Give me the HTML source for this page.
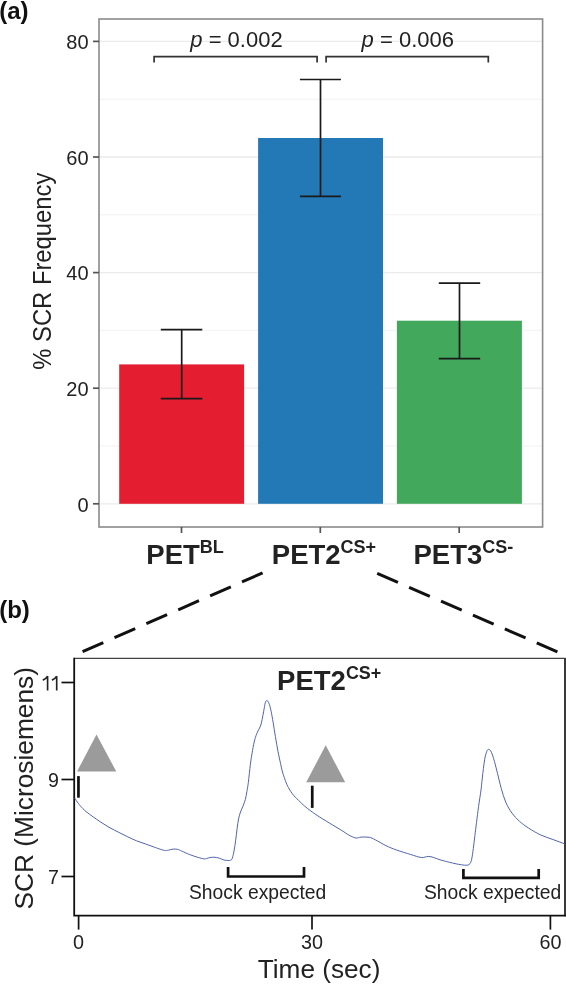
<!DOCTYPE html>
<html><head><meta charset="utf-8"><title>SCR figure</title>
<style>
html,body{margin:0;padding:0;background:#fff;width:566px;height:984px;overflow:hidden}
svg{position:absolute;left:0;top:0;display:block;will-change:transform}
text{font-family:"Liberation Sans",sans-serif}
</style></head><body>
<svg width="566" height="984" viewBox="0 0 566 984">
<line x1="99" x2="542.6" y1="446" y2="446" stroke="#F0F0F0" stroke-width="0.9"/>
<line x1="99" x2="542.6" y1="330.4" y2="330.4" stroke="#F0F0F0" stroke-width="0.9"/>
<line x1="99" x2="542.6" y1="214.8" y2="214.8" stroke="#F0F0F0" stroke-width="0.9"/>
<line x1="99" x2="542.6" y1="99.2" y2="99.2" stroke="#F0F0F0" stroke-width="0.9"/>
<line x1="99" x2="542.6" y1="503.8" y2="503.8" stroke="#EBEBEB" stroke-width="1.3"/>
<line x1="99" x2="542.6" y1="388.2" y2="388.2" stroke="#EBEBEB" stroke-width="1.3"/>
<line x1="99" x2="542.6" y1="272.6" y2="272.6" stroke="#EBEBEB" stroke-width="1.3"/>
<line x1="99" x2="542.6" y1="157" y2="157" stroke="#EBEBEB" stroke-width="1.3"/>
<line x1="99" x2="542.6" y1="41.4" y2="41.4" stroke="#EBEBEB" stroke-width="1.3"/>
<rect x="119.2" y="364.4" width="124.9" height="139.4" fill="#E41E30"/>
<rect x="258.1" y="138" width="124.9" height="365.8" fill="#2279B5"/>
<rect x="396.9" y="320.7" width="125" height="183.1" fill="#42A85C"/>
<path d="M160.8 329.7H202.3M181.7 329.7V398.6M160.8 398.6H202.3" stroke="#1a1a1a" stroke-width="1.7" fill="none"/>
<path d="M299.9 79.5H340.9M320.5 79.5V196.3M299.9 196.3H340.9" stroke="#1a1a1a" stroke-width="1.7" fill="none"/>
<path d="M438.8 283.2H480.2M459.5 283.2V358.6M438.8 358.6H480.2" stroke="#1a1a1a" stroke-width="1.7" fill="none"/>
<rect x="99" y="19" width="443.6" height="508" fill="none" stroke="#8a8a8a" stroke-width="1.6"/>
<line x1="93" x2="99" y1="503.8" y2="503.8" stroke="#555" stroke-width="1.7"/>
<text x="88.6" y="511.5" font-size="20" text-anchor="end" fill="#222">0</text>
<line x1="93" x2="99" y1="388.2" y2="388.2" stroke="#555" stroke-width="1.7"/>
<text x="88.6" y="395.9" font-size="20" text-anchor="end" fill="#222">20</text>
<line x1="93" x2="99" y1="272.6" y2="272.6" stroke="#555" stroke-width="1.7"/>
<text x="88.6" y="280.3" font-size="20" text-anchor="end" fill="#222">40</text>
<line x1="93" x2="99" y1="157" y2="157" stroke="#555" stroke-width="1.7"/>
<text x="88.6" y="164.7" font-size="20" text-anchor="end" fill="#222">60</text>
<line x1="93" x2="99" y1="41.4" y2="41.4" stroke="#555" stroke-width="1.7"/>
<text x="88.6" y="49.1" font-size="20" text-anchor="end" fill="#222">80</text>
<line x1="181.5" x2="181.5" y1="527" y2="533" stroke="#555" stroke-width="1.7"/>
<line x1="320.3" x2="320.3" y1="527" y2="533" stroke="#555" stroke-width="1.7"/>
<line x1="459.2" x2="459.2" y1="527" y2="533" stroke="#555" stroke-width="1.7"/>
<path d="M154.1 62.5V56.6H317.1V62.5M326.1 62.5V56.6H488.3V62.5" stroke="#333" stroke-width="1.7" fill="none"/>
<text x="236.5" y="47.2" font-size="22" text-anchor="middle" fill="#222"><tspan font-style="italic">p</tspan> = 0.002</text>
<text x="407.8" y="47.2" font-size="22" text-anchor="middle" fill="#222"><tspan font-style="italic">p</tspan> = 0.006</text>
<text x="146.3" y="563.8" font-size="27.5" font-weight="bold" fill="#222">PET<tspan font-size="18" dy="-11" dx="0">BL</tspan></text>
<text x="271.8" y="563.8" font-size="27.5" font-weight="bold" fill="#222">PET2<tspan font-size="18" dy="-11" dx="0">CS+</tspan></text>
<text x="413.5" y="563.8" font-size="27.5" font-weight="bold" fill="#222">PET3<tspan font-size="18" dy="-11" dx="0">CS-</tspan></text>
<text transform="translate(51.3 271.2) rotate(-90) scale(1 1.05)" font-size="23.8" text-anchor="middle" fill="#222">% SCR Frequency</text>
<text x="-0.8" y="19" font-size="24" font-weight="bold" fill="#111">(a)</text>
<text x="-0.8" y="618.3" font-size="24" font-weight="bold" fill="#111">(b)</text>
<line x1="82.6" y1="651.6" x2="262.6" y2="572.9" stroke="#111" stroke-width="3" stroke-dasharray="22.6 12.2"/>
<line x1="377.2" y1="573.4" x2="557.4" y2="651.8" stroke="#111" stroke-width="3" stroke-dasharray="22.6 12.2"/>
<line x1="74.2" x2="564" y1="658.4" y2="658.4" stroke="#444" stroke-width="1.3"/>
<rect x="564" y="657.8" width="2" height="258.4" fill="#3a3a3a"/>
<path d="M74.2 657.8V915.6H566" stroke="#111" stroke-width="1.8" fill="none"/>
<line x1="61.5" x2="74.2" y1="876.5" y2="876.5" stroke="#111" stroke-width="1.7"/>
<text x="58.9" y="883.6" font-size="19.6" text-anchor="end" fill="#222">7</text>
<line x1="61.5" x2="74.2" y1="779.5" y2="779.5" stroke="#111" stroke-width="1.7"/>
<text x="58.9" y="786.6" font-size="19.6" text-anchor="end" fill="#222">9</text>
<line x1="61.5" x2="74.2" y1="682.5" y2="682.5" stroke="#111" stroke-width="1.7"/>
<path d="M42.8 680.1Q46.2 678.9 47.6 676.2V690.5M51.9 680.1Q55.3 678.9 56.7 676.2V690.5" stroke="#222" stroke-width="1.65" fill="none"/>
<line x1="78.6" x2="78.6" y1="915.6" y2="929.6" stroke="#111" stroke-width="1.7"/>
<text x="78.6" y="949.2" font-size="19.8" text-anchor="middle" fill="#222">0</text>
<line x1="312" x2="312" y1="915.6" y2="929.6" stroke="#111" stroke-width="1.7"/>
<text x="312" y="949.2" font-size="19.8" text-anchor="middle" fill="#222">30</text>
<line x1="550.4" x2="550.4" y1="915.6" y2="929.6" stroke="#111" stroke-width="1.7"/>
<text x="550.4" y="949.2" font-size="19.8" text-anchor="middle" fill="#222">60</text>
<text x="319.1" y="977.6" font-size="26.2" text-anchor="middle" fill="#222">Time (sec)</text>
<text transform="translate(33.4 788.3) rotate(-90)" font-size="26.3" text-anchor="middle" fill="#222">SCR (Microsiemens)</text>
<text x="277.1" y="689.9" font-size="27.5" font-weight="bold" fill="#222">PET2<tspan font-size="17.9" dy="-11" dx="0">CS+</tspan></text>
<path d="M96.5 734.4L77 771.6H116.3Z" fill="#9B9B9B"/>
<path d="M325.7 745.3L306.2 782.2H345.2Z" fill="#9B9B9B"/>
<rect x="77.1" y="776.1" width="2.7" height="21.6" fill="#111"/>
<rect x="310.9" y="785.7" width="2.7" height="22.2" fill="#111"/>
<path d="M228.1 867.1V876.5H304V867.1" stroke="#111" stroke-width="2.7" fill="none"/>
<path d="M463.4 869.1V877.8H538.7V869.1" stroke="#111" stroke-width="2.7" fill="none"/>
<text x="189" y="899.1" font-size="19.3" fill="#222">Shock expected</text>
<text x="424" y="898.6" font-size="19.3" fill="#222">Shock expected</text>
<path d="M74.6 798C74.87 798.42 75.55 799.58 76.2 800.5C76.85 801.42 77.78 802.57 78.5 803.5C79.22 804.43 79.23 804.75 80.5 806.1C81.77 807.45 83.98 809.8 86.1 811.6C88.22 813.4 90.83 815.2 93.2 816.9C95.57 818.6 97.5 819.98 100.3 821.8C103.1 823.62 106.92 826.03 110 827.8C113.08 829.57 115.85 830.9 118.8 832.4C121.75 833.9 124.75 835.4 127.7 836.8C130.65 838.2 133.57 839.62 136.5 840.8C139.43 841.98 142.72 842.98 145.3 843.9C147.88 844.82 150.15 845.63 152 846.3C153.85 846.97 154.35 847.22 156.4 847.9C158.45 848.58 162.32 850.02 164.3 850.4C166.28 850.78 166.83 850.42 168.3 850.2C169.77 849.98 171.52 849.23 173.1 849.1C174.68 848.97 176.35 849.07 177.8 849.4C179.25 849.73 179.8 850.23 181.8 851.1C183.8 851.97 187.15 853.57 189.8 854.6C192.45 855.63 195.32 856.58 197.7 857.3C200.08 858.02 202.65 858.68 204.1 858.9C205.55 859.12 205.22 858.87 206.4 858.6C207.58 858.33 209.47 857.48 211.2 857.3C212.93 857.12 215.07 857.2 216.8 857.5C218.53 857.8 220.25 858.65 221.6 859.1C222.95 859.55 223.37 860.02 224.9 860.2C226.43 860.38 229.5 860.77 230.8 860.2C232.1 859.63 232.13 858.5 232.7 856.8C233.27 855.1 233.7 852.77 234.2 850C234.7 847.23 235.22 843.78 235.7 840.2C236.18 836.62 236.62 832.07 237.1 828.5C237.58 824.93 238.03 821.55 238.6 818.8C239.17 816.05 239.77 814.12 240.5 812C241.23 809.88 242.18 808.22 243 806.1C243.82 803.98 244.75 801.73 245.4 799.3C246.05 796.87 246.42 794.27 246.9 791.5C247.38 788.73 247.72 787.25 248.3 782.7C248.88 778.15 249.78 769.05 250.4 764.2C251.02 759.35 251.37 757.3 252 753.6C252.63 749.9 253.4 745.35 254.2 742C255 738.65 255.75 736.17 256.8 733.5C257.85 730.83 259.62 728.3 260.5 726C261.38 723.7 261.57 722.17 262.1 719.7C262.63 717.23 263.17 714.03 263.7 711.2C264.23 708.37 264.77 704.47 265.3 702.7C265.83 700.93 266.28 700.5 266.9 700.6C267.52 700.7 268.3 701.53 269 703.3C269.7 705.07 270.4 707.93 271.1 711.2C271.8 714.47 272.48 718.67 273.2 722.9C273.92 727.13 274.6 731.83 275.4 736.6C276.2 741.37 277.13 746.98 278 751.5C278.87 756.02 279.85 760.28 280.6 763.7C281.35 767.12 281.57 768.82 282.5 772C283.43 775.18 285.08 779.97 286.2 782.8C287.32 785.63 288.17 787.17 289.2 789C290.23 790.83 291.35 792.4 292.4 793.8C293.45 795.2 294.47 796.3 295.5 797.4C296.53 798.5 297.07 798.93 298.6 800.4C300.13 801.87 302.65 804.43 304.7 806.2C306.75 807.97 308.83 809.47 310.9 811C312.97 812.53 314 813.38 317.1 815.4C320.2 817.42 325.38 820.58 329.5 823.1C333.62 825.62 338.58 828.52 341.8 830.5C345.02 832.48 346.45 833.75 348.8 835C351.15 836.25 353.83 837.65 355.9 838C357.97 838.35 358.98 837.22 361.2 837.1C363.42 836.98 366.85 836.85 369.2 837.3C371.55 837.75 372.52 838.42 375.3 839.8C378.08 841.18 382.37 843.9 385.9 845.6C389.43 847.3 392.37 848.52 396.5 850C400.63 851.48 406.57 853.25 410.7 854.5C414.83 855.75 418.37 857.18 421.3 857.5C424.23 857.82 426.25 856.4 428.3 856.4C430.35 856.4 431.65 856.93 433.6 857.5C435.55 858.07 438.2 859.22 440 859.8C441.8 860.38 441.9 860.37 444.4 861C446.9 861.63 452.15 862.97 455 863.6C457.85 864.23 459.47 864.53 461.5 864.8C463.53 865.07 465.78 865.4 467.2 865.2C468.62 865 469.25 864.62 470 863.6C470.75 862.58 471.15 861.62 471.7 859.1C472.25 856.58 472.77 852.43 473.3 848.5C473.83 844.57 474.37 839.83 474.9 835.5C475.43 831.17 475.88 827.37 476.5 822.5C477.12 817.63 477.85 811.72 478.6 806.3C479.35 800.88 480.38 794.72 481 790C481.62 785.28 481.7 783.03 482.3 778C482.9 772.97 483.85 764.23 484.6 759.8C485.35 755.37 486.1 753.13 486.8 751.4C487.5 749.67 488.03 749.27 488.8 749.4C489.57 749.53 490.47 750.22 491.4 752.2C492.33 754.18 493.38 757.77 494.4 761.3C495.42 764.83 496.35 768.85 497.5 773.4C498.65 777.95 499.92 783.78 501.3 788.6C502.68 793.42 504.03 798.23 505.8 802.3C507.57 806.37 509.62 809.83 511.9 813C514.18 816.17 516.72 818.78 519.5 821.3C522.28 823.82 525.05 825.82 528.6 828.1C532.15 830.38 536.75 833.1 540.8 835C544.85 836.9 548.95 838.03 552.9 839.5C556.85 840.97 562.57 843.08 564.5 843.8" stroke="#5063AA" stroke-width="1" fill="none" stroke-linejoin="round"/>
</svg>
</body></html>
